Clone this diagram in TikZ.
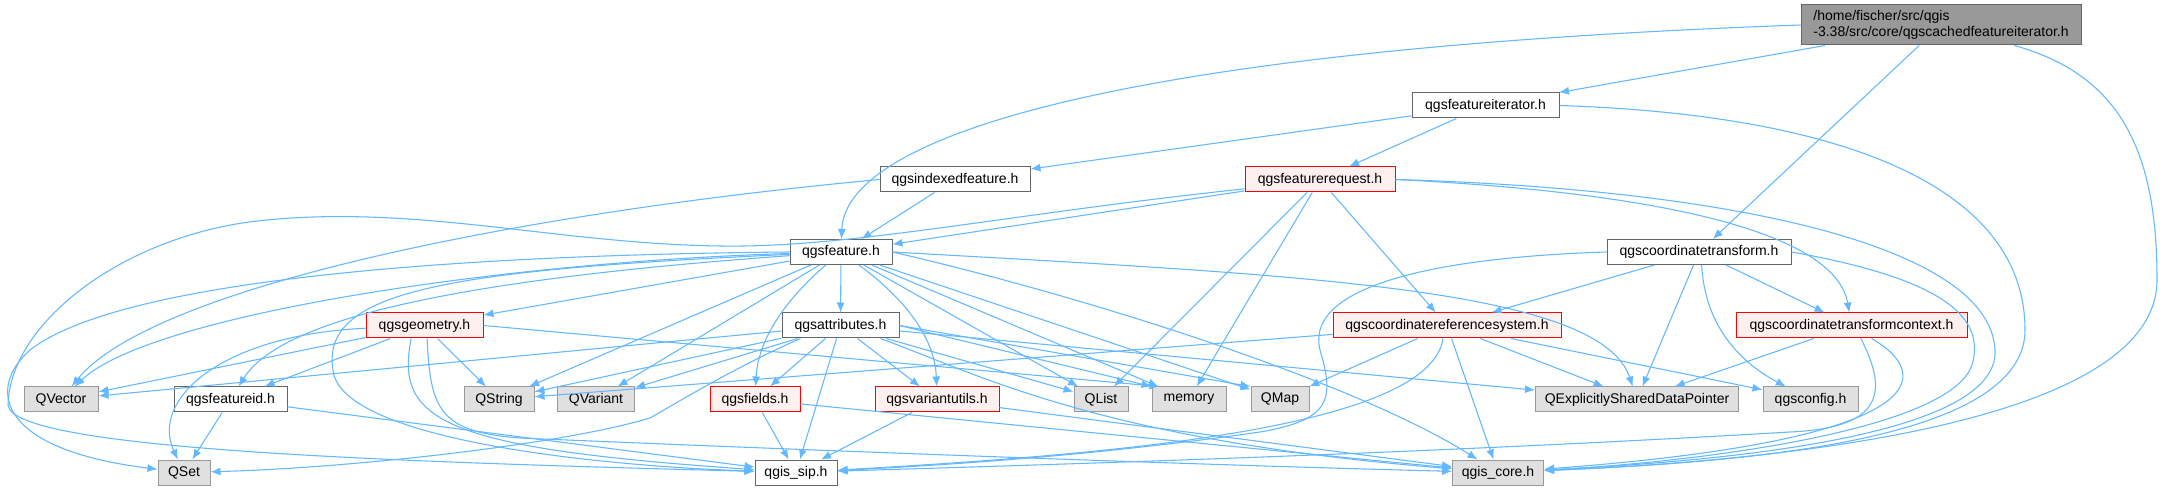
\documentclass[tikz,border=0pt]{standalone}
\usepackage{fontspec}
\setmainfont{Liberation Sans}
\usetikzlibrary{arrows.meta}
\definecolor{edgeblue}{HTML}{63B8FF}
\definecolor{boxline}{HTML}{666666}
\definecolor{sysline}{HTML}{999999}
\definecolor{sysfill}{HTML}{E0E0E0}
\definecolor{truncfill}{HTML}{FFF0F0}
\definecolor{rootfill}{HTML}{999999}
\begin{document}
\begin{tikzpicture}[
  x=0.75pt, y=-0.75pt,
  file/.style={rectangle, draw=boxline, fill=white, line width=0.75pt, minimum height=18.75pt, inner sep=0pt},
  sysfile/.style={file, draw=sysline, fill=sysfill},
  trunc/.style={file, draw=red, fill=truncfill},
  inc/.style={draw=edgeblue, line width=0.8pt, -{Latex[length=7.5pt,width=6pt]}},
  font=\fontsize{10.5}{12.5}\selectfont
]
\useasboundingbox[fill=white] (0,0) rectangle (2163,491);

\node[file, fill=rootfill, minimum width=210pt, minimum height=30pt, align=left, font=\fontsize{10.5}{11.5}\selectfont] (root) at (1941,25) {/home/fischer/src/qgis\\-3.38/src/core/qgscachedfeatureiterator.h};
\node[file, minimum width=110.25pt] (fiter) at (1485.5,105.5) {qgsfeatureiterator.h};
\node[file, minimum width=112.5pt] (indexed) at (955,179.5) {qgsindexedfeature.h};
\node[trunc, minimum width=112.5pt] (freq) at (1320,179.5) {qgsfeaturerequest.h};
\node[file, minimum width=76.5pt] (feature) at (841,252) {qgsfeature.h};
\node[file, minimum width=138pt] (ctrans) at (1699,252) {qgscoordinatetransform.h};
\node[trunc, minimum width=87.75pt] (geometry) at (424.5,325.5) {qgsgeometry.h};
\node[file, minimum width=87.75pt] (attributes) at (840.5,325.5) {qgsattributes.h};
\node[trunc, minimum width=171pt] (crs) at (1447,325.5) {qgscoordinatereferencesystem.h};
\node[trunc, minimum width=173.25pt] (ctcontext) at (1851.5,325.5) {qgscoordinatetransformcontext.h};
\node[sysfile, minimum width=55.5pt] (qvector) at (61,399.5) {QVector};
\node[file, minimum width=84.75pt] (featureid) at (230.5,399.5) {qgsfeatureid.h};
\node[sysfile, minimum width=52.5pt] (qstring) at (499,399.5) {QString};
\node[sysfile, minimum width=57.75pt] (qvariant) at (596,399.5) {QVariant};
\node[trunc, minimum width=67.5pt] (fields) at (755,399.5) {qgsfields.h};
\node[trunc, minimum width=93pt] (varutils) at (937,399.5) {qgsvariantutils.h};
\node[sysfile, minimum width=40.5pt] (qlist) at (1101,399.5) {QList};
\node[sysfile, minimum width=55.5pt] (memory) at (1189,399.5) {memory};
\node[sysfile, minimum width=43.5pt] (qmap) at (1280,399.5) {QMap};
\node[sysfile, minimum width=152.25pt] (qesdp) at (1637,399.5) {QExplicitlySharedDataPointer};
\node[sysfile, minimum width=71.25pt] (qgsconfig) at (1810.5,399.5) {qgsconfig.h};
\node[sysfile, minimum width=39pt] (qset) at (184,472.5) {QSet};
\node[file, minimum width=61.5pt] (qgissip) at (796,472.5) {qgis\_sip.h};
\node[sysfile, minimum width=68.25pt] (qgiscore) at (1498,472.5) {qgis\_core.h};

\draw[inc] (root) -- (fiter);
\draw[inc] (root) -- (ctrans);
\draw[inc] (root.west) .. controls (1100,50) and (845,140) .. (feature);
\draw[inc] ([xshift=55pt]root.south) .. controls (2120,75) and (2157,150) .. (2157,280) .. controls (2157,420) and (1800,460) .. (qgiscore);

\draw[inc] (fiter) -- (indexed);
\draw[inc] (fiter) -- (freq);
\draw[inc] (fiter.east) .. controls (1850,115) and (2025,190) .. (2025,330) .. controls (2025,440) and (1750,462) .. (qgiscore);

\draw[inc] (indexed) -- (feature);
\draw[inc] (indexed.west) .. controls (500,215) and (150,290) .. (qvector);

\draw[inc] (freq) -- (feature);
\draw[inc] (freq) -- (qlist);
\draw[inc] (freq) -- (memory);
\draw[inc] (freq) -- (crs);
\draw[inc] (freq.east) .. controls (1650,192) and (1835,230) .. (ctcontext);
\draw[inc] (freq.east) .. controls (1750,190) and (1990,250) .. (1995,350) .. controls (2000,440) and (1700,462) .. (qgiscore);
\draw[inc] ([yshift=-7pt]freq.west) .. controls (1000,215) and (850,248) .. (721,246) .. controls (560,244) and (420,205) .. (267,220) .. controls (130,232) and (10,320) .. (8,405) .. controls (12,450) and (400,462) .. (qgissip);

\draw[inc] (feature) .. controls (500,262) and (150,315) .. (qvector);
\draw[inc] (feature) .. controls (450,280) and (280,320) .. (featureid);
\draw[inc] (feature) -- (geometry);
\draw[inc] (feature) -- (qstring);
\draw[inc] (feature) -- (qvariant);
\draw[inc] (feature) -- (attributes);
\draw[inc] (feature) .. controls (785,300) and (758,340) .. (fields);
\draw[inc] (feature) .. controls (900,295) and (935,335) .. (varutils);
\draw[inc] (feature) -- (qlist);
\draw[inc] (feature) -- (memory);
\draw[inc] (feature) -- (qmap);
\draw[inc] (feature.east) .. controls (1300,275) and (1600,288) .. (qesdp);
\draw[inc] (feature.east) .. controls (1100,300) and (1360,385) .. (qgiscore);
\draw[inc] (feature) .. controls (450,270) and (320,290) .. (333,370) .. controls (340,440) and (600,466) .. (qgissip);
\draw[inc] (feature.west) .. controls (450,255) and (120,280) .. (30,350) .. controls (-15,390) and (0,450) .. (qset);

\draw[inc] (geometry) -- (qvector);
\draw[inc] (geometry) -- (featureid);
\draw[inc] (geometry) -- (qstring);
\draw[inc] (geometry.east) -- ([xshift=6pt]memory.north west);
\draw[inc] (geometry) .. controls (220,335) and (150,400) .. (qset);
\draw[inc] ([xshift=-10pt]geometry.south) .. controls (395,420) and (440,448) .. (qgissip);
\draw[inc] ([xshift=2pt]geometry.south) .. controls (430,410) and (440,432) .. (520,438) .. controls (800,450) and (1200,465) .. (qgiscore);

\draw[inc] (attributes) -- (qvector);
\draw[inc] (attributes) -- (qstring);
\draw[inc] (attributes) -- (qvariant);
\draw[inc] (attributes) -- (fields);
\draw[inc] (attributes) -- (qgissip);
\draw[inc] (attributes) -- (varutils);
\draw[inc] (attributes) -- (qlist);
\draw[inc] (attributes.east) -- (memory.north west);
\draw[inc] (attributes.east) -- (qmap.north west);
\draw[inc] (attributes) -- (qesdp);
\draw[inc] ([xshift=-30pt]attributes.south) .. controls (740,365) and (690,395) .. (650,418) .. controls (560,445) and (350,468) .. (qset);
\draw[inc] ([xshift=30pt]attributes.south) .. controls (980,375) and (1100,440) .. (qgiscore);

\draw[inc] (featureid) -- (qset);
\draw[inc] (featureid) -- (qgissip);
\draw[inc] (fields) -- (qgissip);
\draw[inc] (fields) -- (qgiscore);
\draw[inc] (varutils) -- (qgissip);
\draw[inc] (varutils) -- (qgiscore);

\draw[inc] (ctrans) -- (crs);
\draw[inc] (ctrans) -- (ctcontext);
\draw[inc] (ctrans) -- (qesdp);
\draw[inc] ([xshift=2pt]ctrans.south) .. controls (1705,330) and (1745,365) .. (qgsconfig);
\draw[inc] (ctrans.east) .. controls (1950,280) and (1985,320) .. (1972,365) .. controls (1950,430) and (1700,462) .. (qgiscore);
\draw[inc] (ctrans.west) .. controls (1420,258) and (1305,290) .. (1320,350) .. controls (1335,400) and (1330,420) .. (1260,432) .. controls (1100,455) and (950,465) .. (qgissip);

\draw[inc] (crs) -- (qstring);
\draw[inc] (crs) -- (qmap);
\draw[inc] (crs) -- (qesdp);
\draw[inc] (crs) -- (qgsconfig);
\draw[inc] (crs) -- (qgiscore);
\draw[inc] ([xshift=-3pt]crs.south) .. controls (1430,430) and (1100,455) .. (qgissip);

\draw[inc] (ctcontext) -- (qesdp);
\draw[inc] ([xshift=7pt]ctcontext.south) .. controls (1890,395) and (1880,428) .. (1790,432) .. controls (1400,455) and (1000,466) .. (qgissip);
\draw[inc] ([xshift=15pt]ctcontext.south) .. controls (1935,375) and (1935,440) .. (qgiscore);
\end{tikzpicture}
\end{document}
